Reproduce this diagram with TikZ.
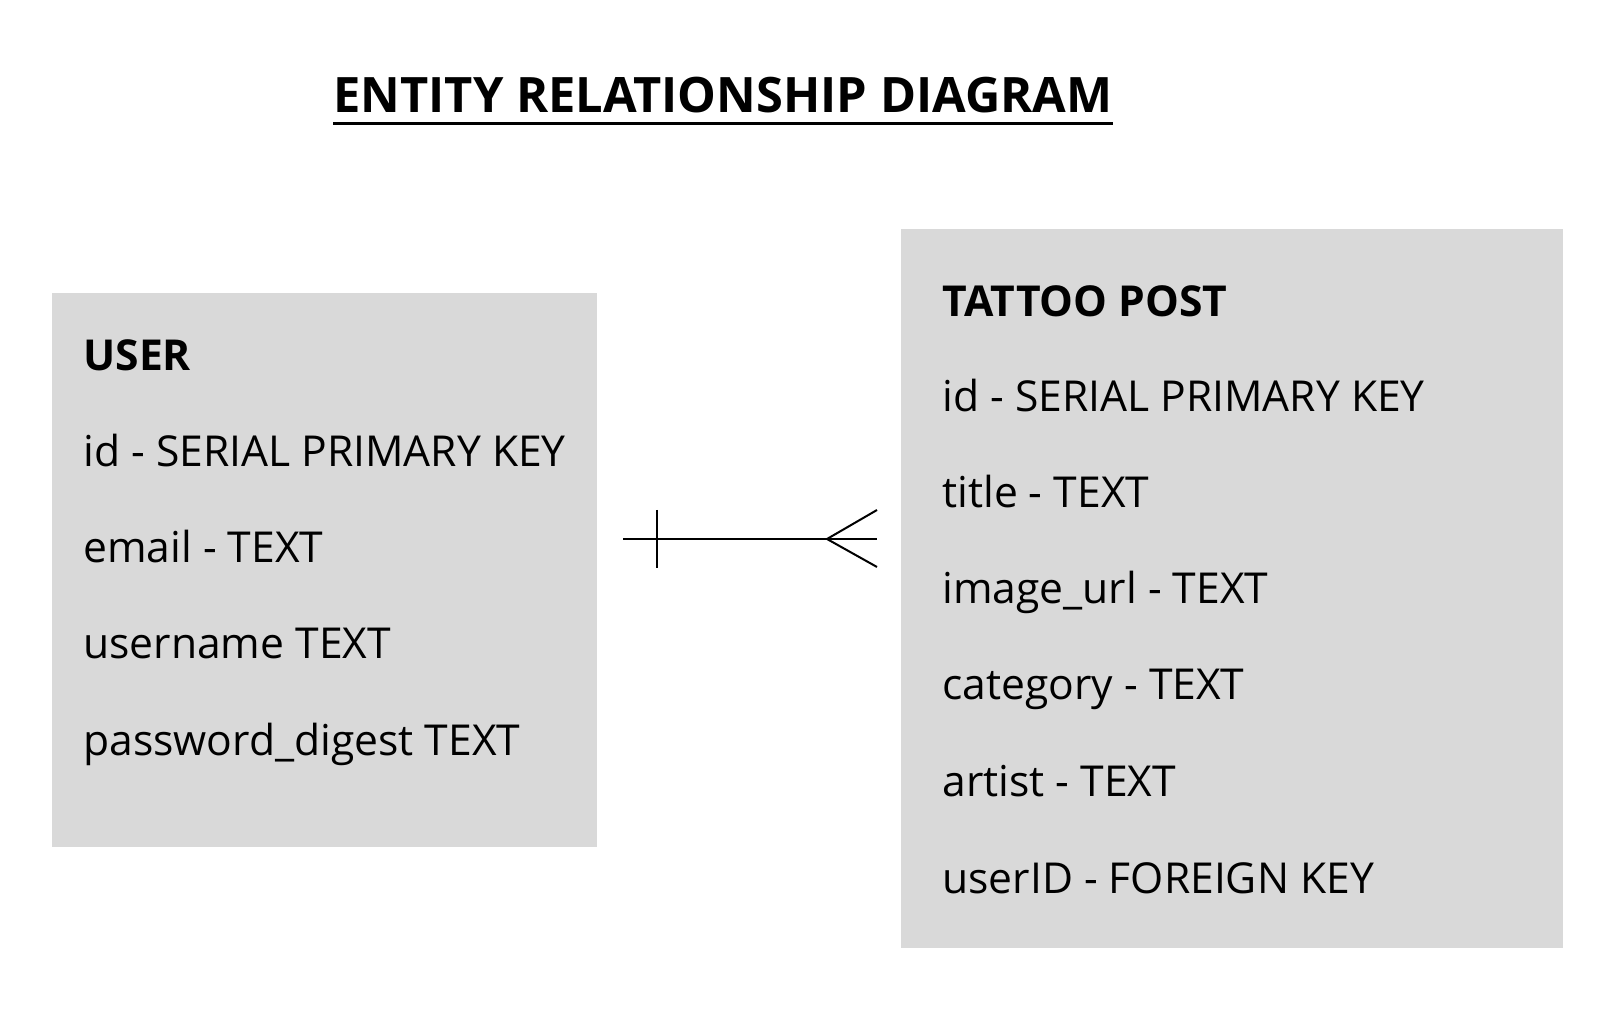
\documentclass[tikz,border=0pt]{standalone}
\usepackage{fontspec}
\setmainfont{Open Sans}
\usepackage{tikz}
\definecolor{boxgray}{HTML}{D9D9D9}
\tikzset{field/.style = {anchor=base west, inner sep=0pt,
  font=\fontsize{21.3}{25}\selectfont}}
\tikzset{entity/.style = {field, font=\fontsize{21.3}{25}\selectfont\bfseries}}

\begin{document}
\begin{tikzpicture}[x=0.5pt,y=-0.5pt]
  \useasboundingbox (0,0) rectangle (1623,1015);
  \node[anchor=base west, inner sep=0pt, font=\fontsize{24.4}{28}\selectfont\bfseries] (T) at (333,113) {ENTITY RELATIONSHIP DIAGRAM};
  \draw[line width=1.5pt] ([yshift=-5.5pt]T.base west) -- ([yshift=-5.5pt]T.base east);
  \fill[boxgray] (52,293) rectangle (597,847);
  \fill[boxgray] (901,229) rectangle (1563,948);
  \node[entity] (user) at (83,371) {USER};
  \node[field] (u1) at (83,467) {id - SERIAL PRIMARY KEY};
  \node[field] (u2) at (83,563) {email - TEXT};
  \node[field] (u3) at (83,659) {username TEXT};
  \node[field] (u4) at (83,755) {password\_digest TEXT};
  \node[entity] (post) at (942,317) {TATTOO POST};
  \node[field] (p1) at (942,412) {id - SERIAL PRIMARY KEY};
  \node[field] (p2) at (942,508) {title - TEXT};
  \node[field] (p3) at (942,604) {image\_url - TEXT};
  \node[field] (p4) at (942,700) {category - TEXT};
  \node[field] (p5) at (942,796) {artist - TEXT};
  \node[field] (p6) at (942,893) {userID - FOREIGN KEY};
  \coordinate (one) at (623,539);
  \coordinate (many) at (877,539);
  \coordinate (foot) at (827,539);
  \draw[line width=1pt] (one) -- (many);
  \draw[line width=1pt] ([xshift=17pt]one) ++(0,-29) -- ++(0,58);
  \draw[line width=1pt] (many) ++(0,-29) -- (foot) -- ++(50,28);
\end{tikzpicture}
\end{document}
